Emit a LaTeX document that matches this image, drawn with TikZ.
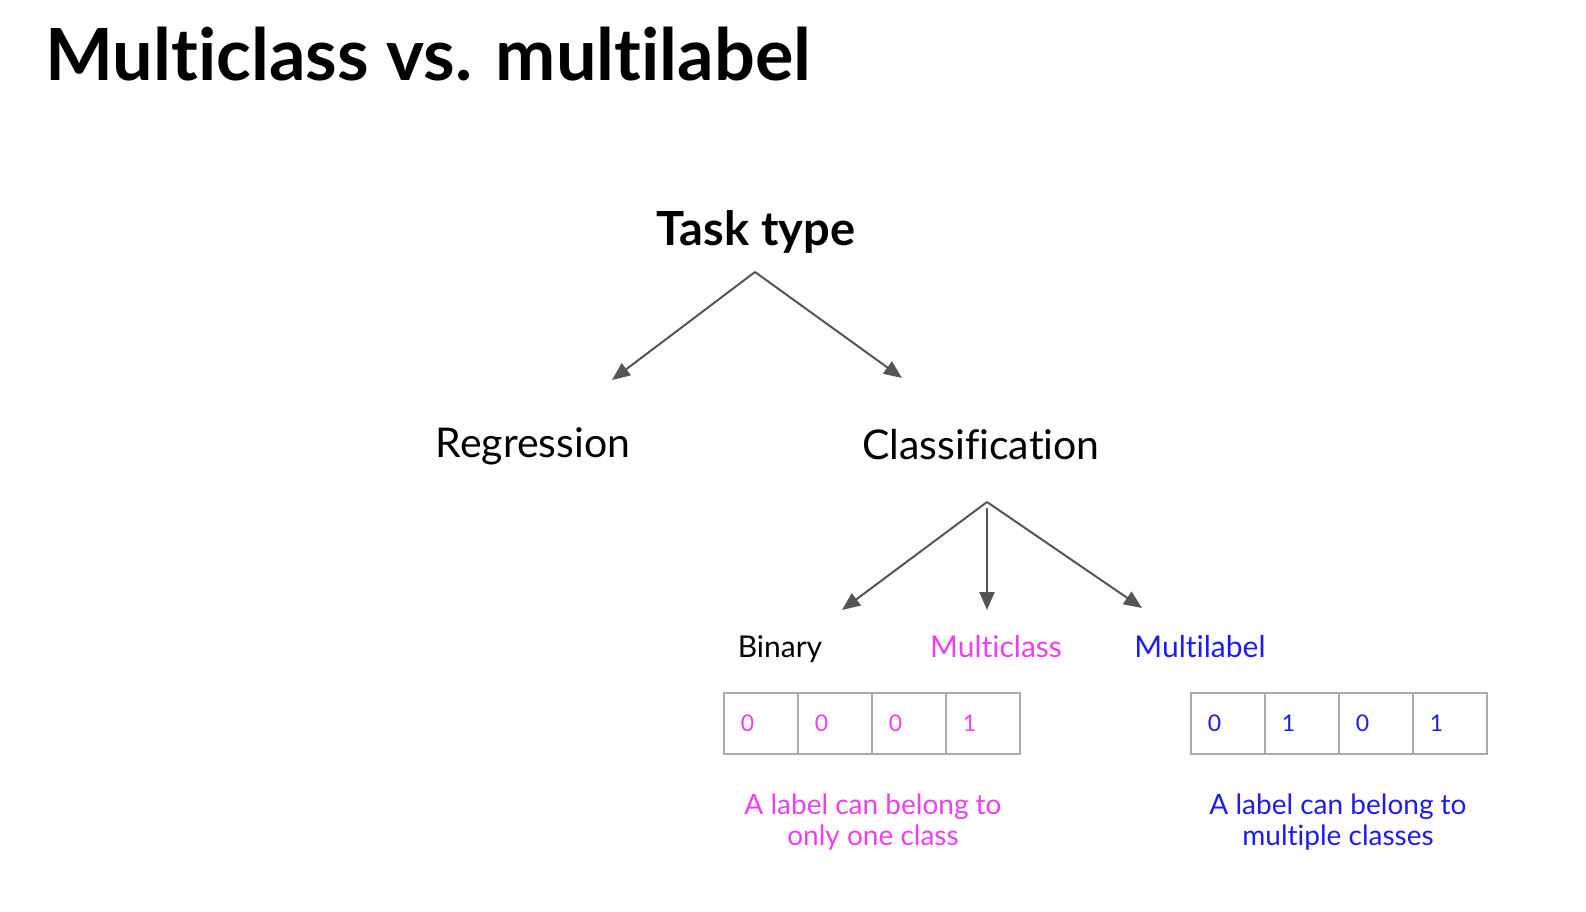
\documentclass[tikz,border=0pt]{standalone}
\usepackage{fontspec}
\setmainfont{Lato}[Ligatures=NoCommon]
\usetikzlibrary{arrows.meta}
\definecolor{mcpink}{HTML}{EE3FEE}
\definecolor{mlblue}{HTML}{1C1CF0}
\definecolor{arrowgray}{HTML}{555555}
\definecolor{boxgray}{HTML}{AAAAAA}

\begin{document}
\begin{tikzpicture}[x=1pt,y=-1pt]
	\useasboundingbox (0,0) rectangle (1586,912);
	\tikzstyle{TaskArrow}=[draw=arrowgray,line width=2pt,-{Triangle[length=18pt,width=15pt]}]
	\tikzstyle{Cell}=[draw=boxgray,line width=2pt,minimum width=74pt,minimum height=61pt,inner sep=0pt,anchor=north west]
	\tikzstyle{Digit}=[font=\fontsize{23}{28}\selectfont,inner sep=0pt]
	\tikzstyle{Kind}=[font=\fontsize{41}{48}\selectfont,anchor=base]
	\tikzstyle{SubKind}=[font=\fontsize{30}{36}\selectfont,anchor=base]
	\tikzstyle{Note}=[font=\fontsize{28}{31.5}\selectfont,align=center]
	\node[anchor=base west,font=\bfseries\fontsize{72}{80}\selectfont] (title) at (42,81) {Multiclass vs. multilabel};
	\node[anchor=base,font=\bfseries\fontsize{47}{54}\selectfont] (task) at (756,245) {Task type};
	\node[Kind] (reg) at (533,457) {Regression};
	\node[Kind] (cls) at (981,459) {Classification};
	\node[SubKind] (bin) at (780,657) {Binary};
	\node[SubKind,text=mcpink] (mc) at (996,657) {Multiclass};
	\node[SubKind,text=mlblue] (ml) at (1200,657) {Multilabel};
	% forks and arrow tips
	\coordinate (taskfork) at (755,272);
	\coordinate (regtip) at (612,380);
	\coordinate (clstip) at (902,378);
	\coordinate (clsfork) at (987,502);
	\coordinate (bintip) at (842,610);
	\coordinate (mctip) at (987,610);
	\coordinate (mltip) at (1142,608);
	\draw[TaskArrow] (taskfork) -- (regtip);
	\draw[TaskArrow] (taskfork) -- (clstip);
	\draw[TaskArrow] (clsfork) -- (bintip);
	\draw[TaskArrow,shorten <=6pt] (clsfork) -- (mctip);
	\draw[TaskArrow] (clsfork) -- (mltip);
	% one-hot and multi-hot vectors
	\foreach \d [count=\i from 0] in {0,0,0,1} {
		\node[Cell] (mc\i) at (723+74*\i,692) {};
		\node[Digit,text=mcpink] at ([xshift=24.5pt]mc\i.west) {\d};
	}
	\foreach \d [count=\i from 0] in {0,1,0,1} {
		\node[Cell] (ml\i) at (1190+74*\i,692) {};
		\node[Digit,text=mlblue] at ([xshift=24.5pt]ml\i.west) {\d};
	}
	\node[Note,text=mcpink] (mcnote) at (873,822) {A label can belong to\\only one class};
	\node[Note,text=mlblue] (mlnote) at (1338,822) {A label can belong to\\multiple classes};
\end{tikzpicture}
\end{document}
